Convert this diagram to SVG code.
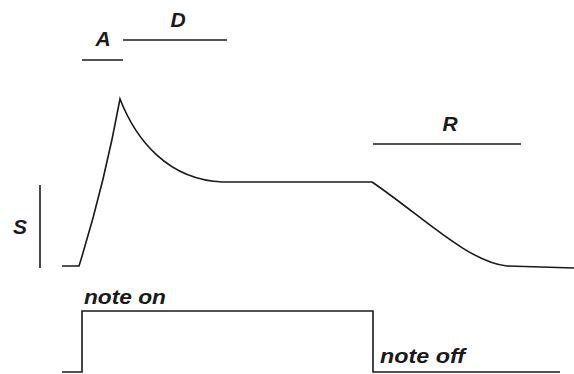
<svg xmlns="http://www.w3.org/2000/svg" width="574" height="374" viewBox="0 0 574 374">
  <style>
    .ln { fill: none; stroke: #1a1a1a; stroke-width: 1.6; stroke-linejoin: miter; }
    .lbl { font-family: "Liberation Sans", Arial, sans-serif; font-weight: bold; font-style: italic; font-size: 20px; fill: #1a1a1a; }
    .big { font-size: 21px; }
  </style>
  <rect width="574" height="374" fill="#ffffff"/>
  <g id="phase-markers">
    <line class="ln" x1="82" y1="60" x2="123" y2="60"/>
    <text class="lbl big" x="103" y="46" text-anchor="middle">A</text>
    <line class="ln" x1="123" y1="40" x2="227" y2="40"/>
    <text class="lbl big" x="178" y="27" text-anchor="middle">D</text>
    <line class="ln" x1="40" y1="185" x2="40" y2="268"/>
    <text class="lbl big" x="20" y="234" text-anchor="middle">S</text>
    <line class="ln" x1="373" y1="144" x2="521" y2="144"/>
    <text class="lbl big" x="450" y="131" text-anchor="middle">R</text>
  </g>
  <g id="envelope">
    <path class="ln" d="M62,266 L79,266 Q104,186 120,99 C136,140 168,180 223,182 L372,182 C422,216 468,262 507,266 L574,268"/>
  </g>
  <g id="gate">
    <path class="ln" d="M62,372 L82,372 L82,311 L373,311 L373,372 L560,372"/>
    <text class="lbl" x="84" y="304" textLength="82" lengthAdjust="spacingAndGlyphs">note on</text>
    <text class="lbl" x="380" y="363" textLength="85" lengthAdjust="spacingAndGlyphs">note off</text>
  </g>
</svg>
